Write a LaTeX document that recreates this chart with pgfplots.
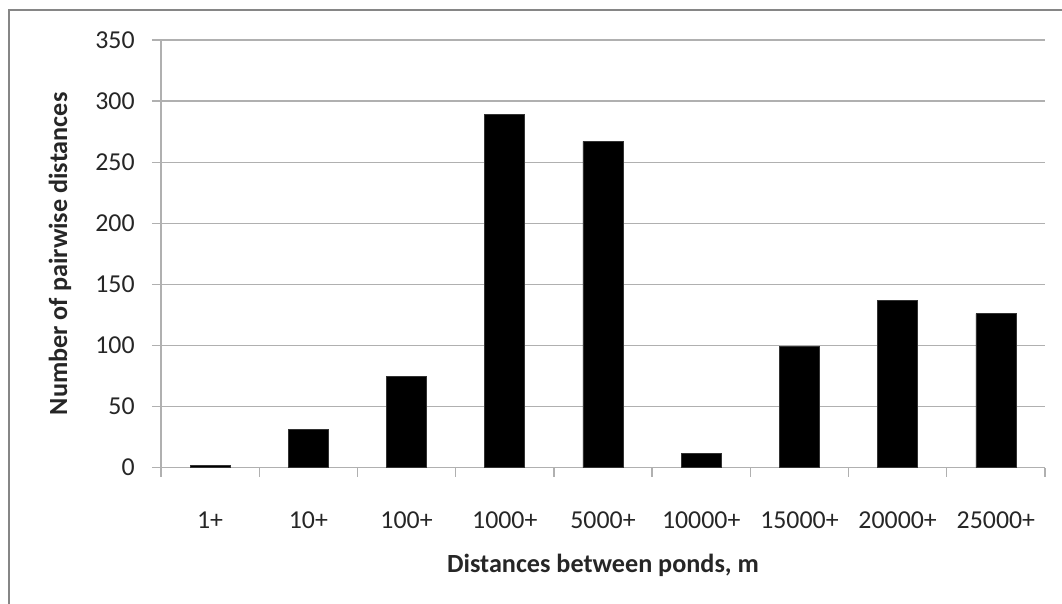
\documentclass[border=0pt]{standalone}
\usepackage{pgfplots}
\pgfplotsset{compat=1.18}
\usepackage{fontspec}
\setmainfont{Carlito}
\definecolor{gridgray}{HTML}{B0B0B0}
\definecolor{framegray}{HTML}{868686}
\begin{document}
\begin{tikzpicture}
\useasboundingbox (0,0) rectangle (21.24cm,12.06cm);
\clip (0,0) rectangle (21.24cm,12.06cm);
\draw[framegray, line width=1.2pt] (0.18cm,-0.5cm) -- (0.18cm,11.86cm) -- (22cm,11.86cm);
\begin{axis}[
  at={(3.22cm,2.706cm)}, anchor=south west,
  scale only axis, width=17.68cm, height=8.554cm,
  xmin=-0.5, xmax=8.5, ymin=0, ymax=350,
  axis x line*=bottom, axis y line*=left,
  axis line style={-, draw=gridgray, line width=0.8pt},
  ytick={0,50,...,350},
  ymajorgrids, grid style={gridgray, line width=0.8pt},
  xtick={0,...,8},
  xticklabels={1+,10+,100+,1000+,5000+,10000+,15000+,20000+,25000+},
  minor xtick={-0.5,0.5,...,8.5},
  tick align=outside,
  tick style={gridgray, line width=0.8pt},
  major tick length=0.18cm,
  minor tick length=0.18cm,
  major x tick style={draw=none},
  ticklabel style={font=\fontsize{14.7}{17}\selectfont, text=black!85},
  /pgf/number format/assume math mode=true,
  xticklabel style={anchor=base, inner sep=0pt, yshift=-1.04cm},
  yticklabel style={anchor=east, inner sep=0pt, xshift=-0.34cm},
  every axis x label/.style={at={(axis description cs:0.5,-0.229)}, anchor=center,
    font=\fontsize{14.9}{17}\selectfont\bfseries, text=black!85},
  every axis y label/.style={at={(axis description cs:-0.1143,0.5)}, anchor=center, rotate=90,
    font=\fontsize{14.9}{17}\selectfont\bfseries, text=black!85},
  xlabel={Distances between ponds, m},
  ylabel={Number of pairwise distances},
]
\addplot[ybar, bar width=0.8cm, fill=black, draw=black!80] coordinates {
(0, 2)
(1, 31)
(2, 75)
(3, 289)
(4, 267)
(5, 12)
(6, 99)
(7, 137)
(8, 126)
};
\end{axis}
\end{tikzpicture}
\end{document}
